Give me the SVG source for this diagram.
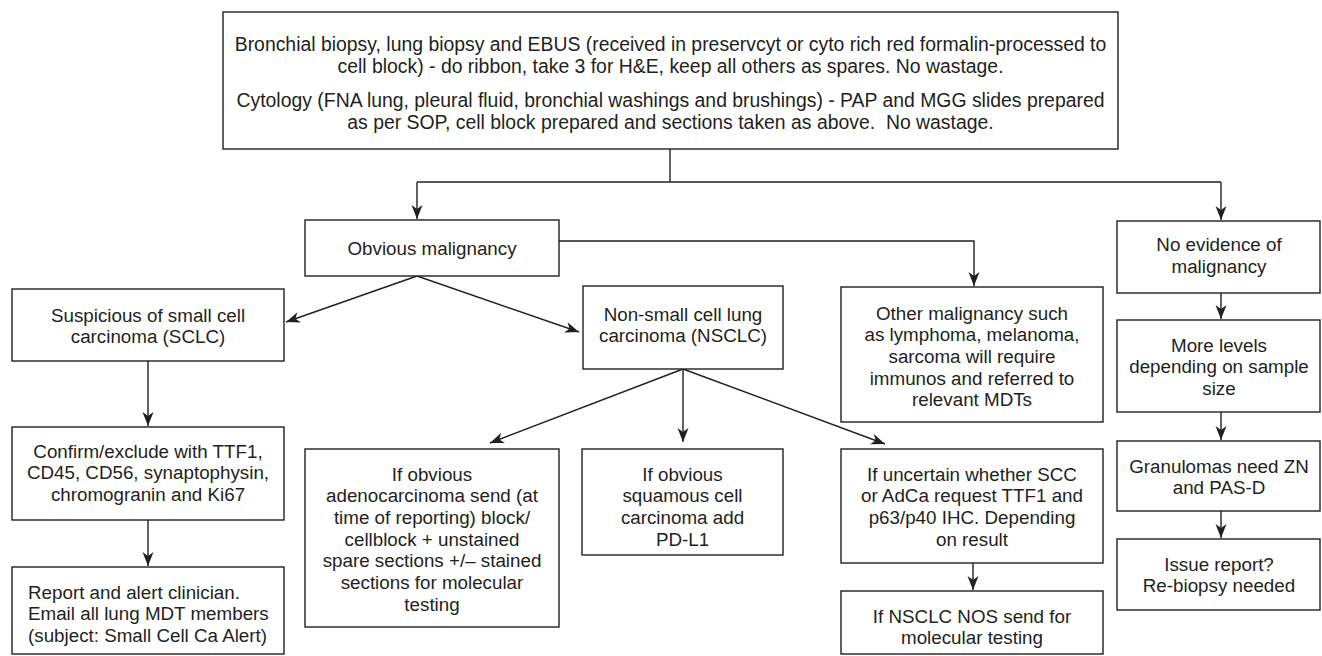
<svg xmlns="http://www.w3.org/2000/svg" width="1322" height="656" viewBox="0 0 1322 656">
<defs>
<style>
.box{fill:#fff;stroke:#231f20;stroke-width:1.4}
.t{font-family:"Liberation Sans",Arial,Helvetica,sans-serif;font-size:18.8px;fill:#231f20;text-anchor:middle}
.big{font-size:19.4px}
.l{text-anchor:start}
.c{fill:none;stroke:#231f20;stroke-width:1.4}
</style>
<marker id="ah" markerUnits="userSpaceOnUse" markerWidth="16" markerHeight="12" refX="14" refY="6" orient="auto">
<path d="M0,0.5 L14,6 L0,11.5 L4,6 z" fill="#231f20"/>
</marker>
</defs>
<rect width="1322" height="656" fill="#fff"/>

<g id="connectors">
<polyline class="c" points="670,149 670,182"/>
<polyline class="c" points="417,182 1221,182"/>
<line class="c" x1="417" y1="182" x2="417" y2="219" marker-end="url(#ah)"/>
<line class="c" x1="1221" y1="182" x2="1221" y2="220" marker-end="url(#ah)"/>
<polyline class="c" points="559,241 974,241 974,286" marker-end="url(#ah)"/>
<line class="c" x1="417" y1="276" x2="286" y2="322" marker-end="url(#ah)"/>
<line class="c" x1="417" y1="276" x2="579" y2="332" marker-end="url(#ah)"/>
<line class="c" x1="148" y1="361" x2="148" y2="426" marker-end="url(#ah)"/>
<line class="c" x1="148" y1="520" x2="148" y2="566" marker-end="url(#ah)"/>
<line class="c" x1="683" y1="369" x2="490" y2="443" marker-end="url(#ah)"/>
<line class="c" x1="683" y1="369" x2="683" y2="442" marker-end="url(#ah)"/>
<line class="c" x1="683" y1="369" x2="885" y2="444" marker-end="url(#ah)"/>
<line class="c" x1="973" y1="563" x2="973" y2="590" marker-end="url(#ah)"/>
<line class="c" x1="1221" y1="293" x2="1221" y2="319" marker-end="url(#ah)"/>
<line class="c" x1="1221" y1="412" x2="1221" y2="440" marker-end="url(#ah)"/>
<line class="c" x1="1221" y1="511" x2="1221" y2="538" marker-end="url(#ah)"/>
</g>

<g id="n-top">
<rect class="box" x="223" y="12" width="895" height="137"/>
<text class="t big" x="670.5" y="50.5">Bronchial biopsy, lung biopsy and EBUS (received in preservcyt or cyto rich red formalin-processed to<tspan x="670.5" dy="22">cell block) - do ribbon, take 3 for H&amp;E, keep all others as spares. No wastage.</tspan><tspan x="670.5" dy="34">Cytology (FNA lung, pleural fluid, bronchial washings and brushings) - PAP and MGG slides prepared</tspan><tspan x="670.5" dy="22">as per SOP, cell block prepared and sections taken as above.&#160; No wastage.</tspan></text>
</g>

<g id="n-obvious">
<rect class="box" x="305" y="220" width="254" height="56"/>
<text class="t" x="432" y="255">Obvious malignancy</text>
</g>

<g id="n-noevidence">
<rect class="box" x="1117" y="221" width="203" height="72"/>
<text class="t" x="1219" y="251">No evidence of<tspan x="1219" dy="21.7">malignancy</tspan></text>
</g>

<g id="n-sclc">
<rect class="box" x="12" y="289" width="272" height="72"/>
<text class="t" x="148" y="321.5">Suspicious of small cell<tspan x="148" dy="21.7">carcinoma (SCLC)</tspan></text>
</g>

<g id="n-nsclc">
<rect class="box" x="583" y="286" width="200" height="83"/>
<text class="t" x="683" y="320.5">Non-small cell lung<tspan x="683" dy="21.7">carcinoma (NSCLC)</tspan></text>
</g>

<g id="n-other">
<rect class="box" x="841" y="287" width="262" height="135"/>
<text class="t" x="972" y="319.5">Other malignancy such<tspan x="972" dy="21.7">as lymphoma, melanoma,</tspan><tspan x="972" dy="21.7">sarcoma will require</tspan><tspan x="972" dy="21.7">immunos and referred to</tspan><tspan x="972" dy="21.7">relevant MDTs</tspan></text>
</g>

<g id="n-morelevels">
<rect class="box" x="1117" y="320" width="203" height="92"/>
<text class="t" x="1219" y="351.5">More levels<tspan x="1219" dy="21.7">depending on sample</tspan><tspan x="1219" dy="21.7">size</tspan></text>
</g>

<g id="n-confirm">
<rect class="box" x="12" y="427" width="272" height="93"/>
<text class="t" x="148" y="457.5">Confirm/exclude with TTF1,<tspan x="148" dy="21.7">CD45, CD56, synaptophysin,</tspan><tspan x="148" dy="21.7">chromogranin and Ki67</tspan></text>
</g>

<g id="n-adeno">
<rect class="box" x="305" y="449" width="254" height="178"/>
<text class="t" x="432" y="480.5">If obvious<tspan x="432" dy="21.7">adenocarcinoma send (at</tspan><tspan x="432" dy="21.7">time of reporting) block/</tspan><tspan x="432" dy="21.7">cellblock + unstained</tspan><tspan x="432" dy="21.7">spare sections +/– stained</tspan><tspan x="432" dy="21.7">sections for molecular</tspan><tspan x="432" dy="21.7">testing</tspan></text>
</g>

<g id="n-squamous">
<rect class="box" x="582" y="449" width="201" height="106"/>
<text class="t" x="682.5" y="480.5">If obvious<tspan x="682.5" dy="21.7">squamous cell</tspan><tspan x="682.5" dy="21.7">carcinoma add</tspan><tspan x="682.5" dy="21.7">PD-L1</tspan></text>
</g>

<g id="n-uncertain">
<rect class="box" x="841" y="449" width="262" height="114"/>
<text class="t" x="972" y="480.5">If uncertain whether SCC<tspan x="972" dy="21.7">or AdCa request TTF1 and</tspan><tspan x="972" dy="21.7">p63/p40 IHC. Depending</tspan><tspan x="972" dy="21.7">on result</tspan></text>
</g>

<g id="n-nos">
<rect class="box" x="841" y="591" width="262" height="63"/>
<text class="t" x="972" y="622.5">If NSCLC NOS send for<tspan x="972" dy="21.7">molecular testing</tspan></text>
</g>

<g id="n-report">
<rect class="box" x="12" y="567" width="272" height="87"/>
<text class="t l" x="28" y="598.5">Report and alert clinician.<tspan x="28" dy="21.7">Email all lung MDT members</tspan><tspan x="28" dy="21.7">(subject: Small Cell Ca Alert)</tspan></text>
</g>

<g id="n-granulomas">
<rect class="box" x="1117" y="441" width="203" height="70"/>
<text class="t" x="1219" y="472.5">Granulomas need ZN<tspan x="1219" dy="21.7">and PAS-D</tspan></text>
</g>

<g id="n-issue">
<rect class="box" x="1117" y="539" width="203" height="71"/>
<text class="t" x="1219" y="570.5">Issue report?<tspan x="1219" dy="21.7">Re-biopsy needed</tspan></text>
</g>
</svg>
